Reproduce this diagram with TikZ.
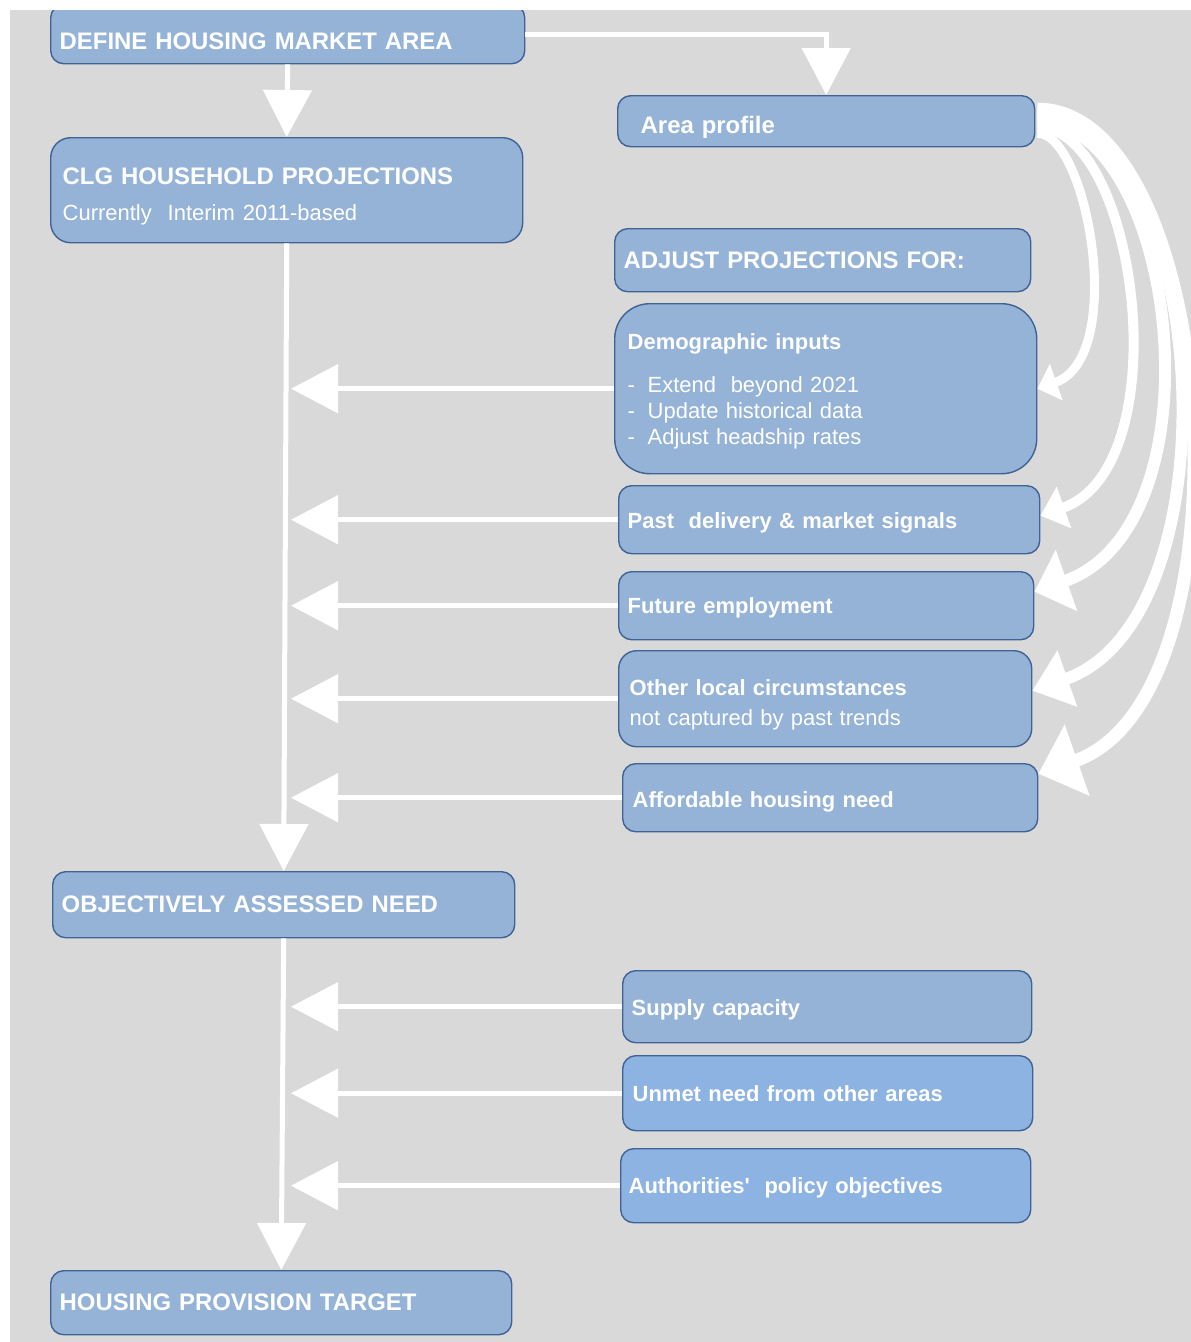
\documentclass[tikz,border=0pt]{standalone}
\usepackage{fontspec}
\setmainfont{Liberation Sans}[Ligatures=TeXOff]
\usepackage{tikz}
\usetikzlibrary{positioning,calc}
\usetikzlibrary{arrows.meta}

\definecolor{bggrey}{HTML}{D9D9D9}
\definecolor{boxfill}{HTML}{95B3D7}
\definecolor{boxfilltwo}{HTML}{8DB3E2}
\definecolor{boxline}{HTML}{3F6395}

\tikzset{
    box/.style={draw=boxline, line width=0.8pt, fill=boxfill, rounded corners=2.6mm,
        text=white, align=left, anchor=north west, inner xsep=1.8mm, inner ysep=1mm},
    big/.style={font=\fontsize{13.6}{16}\selectfont\bfseries},
    small/.style={font=\fontsize{12.5}{15}\selectfont\bfseries},
    flow/.style={draw=white, line width=1mm, -{Triangle[length=9.4mm,width=9.6mm]}},
}

\newcommand{\dashitem}{\makebox[11.4pt][l]{-}}
% first line with extra room above it, to push the text down
\newcommand{\dropline}[2]{\rule{0pt}{#1}#2}

\begin{document}
\begin{tikzpicture}[x=0.2mm, y=-0.2mm]
    \useasboundingbox (0,0) rectangle (1191,1342);
    \fill[bggrey] (10,10) rectangle (1191,1342);
    \clip (10,10) rectangle (1191,1342);

    % left column
    \node[box, big, text width=91.2mm, minimum height=11.8mm] (define) at (50,4) {\dropline{17.8pt}{DEFINE HOUSING MARKET AREA}};
    \node[box, big, rounded corners=4mm, inner xsep=2.4mm, text width=89.6mm, minimum height=21mm] (clg) at (50,137)
        {\dropline{16.6pt}{CLG HOUSEHOLD PROJECTIONS}\\[5pt]\mdseries\fontsize{12.5}{15}\selectfont
         Currently~ Interim 2011-based};
    \node[box, big, text width=88.8mm, minimum height=13.2mm] (oan) at (52,871) {OBJECTIVELY ASSESSED NEED};
    \node[box, big, text width=88.6mm, minimum height=12.8mm] (hpt) at (50,1270) {HOUSING PROVISION TARGET};

    % right column
    \node[box, big, inner xsep=4.6mm, text width=74.2mm, minimum height=10.2mm] (area) at (617,95) {\dropline{16.8pt}{Area profile}};
    \node[box, big, text width=79.6mm, minimum height=12.6mm] (adjust) at (614,228) {ADJUST PROJECTIONS FOR:};
    \node[box, small, rounded corners=7mm, inner xsep=2.6mm, text width=79.2mm, minimum height=34mm] (demo) at (614,303)
        {\dropline{12.5pt}{Demographic inputs}\\[9pt]\mdseries
         \dashitem Extend~ beyond 2021\\
         \dashitem Update historical data\\
         \dashitem Adjust headship rates};
    \node[box, small, text width=80.6mm, minimum height=13.6mm] (past) at (618,485) {\dropline{12.5pt}{Past~ delivery \& market signals}};
    \node[box, small, text width=79.4mm, minimum height=13.6mm] (future) at (618,571) {\dropline{11.4pt}{Future employment}};
    \node[box, small, rounded corners=3.6mm, inner xsep=2.2mm, text width=78.2mm, minimum height=19.2mm] (other) at (618,650)
        {\dropline{15.9pt}{Other local circumstances}\\[2pt]\mdseries not captured by past trends};
    \node[box, small, inner xsep=2mm, text width=79mm, minimum height=13.6mm] (afford) at (622,763) {\dropline{13.6pt}{Affordable housing need}};
    \node[box, small, text width=78.2mm, minimum height=14.4mm] (supply) at (622,970) {\dropline{12.5pt}{Supply capacity}};
    \node[box, small, fill=boxfilltwo, inner xsep=2mm, text width=78mm, minimum height=15mm] (unmet) at (622,1055) {Unmet need from other areas};
    \node[box, small, fill=boxfilltwo, inner xsep=1.6mm, text width=78.8mm, minimum height=14.8mm] (auth) at (620,1148) {\dropline{11.4pt}{Authorities'~ policy objectives}};

    % main flow
    \coordinate (spine) at (291,0);
    \draw[flow] (define.south) -- (clg.north);
    \draw[flow] (define.east) -| (area.north);
    \draw[flow] (clg.south) -- (oan.north);
    \draw[flow] (oan.south) -- (hpt.north);

    \foreach \src in {demo,past,future,other,afford,supply,unmet,auth}{
        \draw[flow] (\src.west) -- (\src.west -| spine);
    }

    % curved arrows from area profile
    \foreach \tgt/\s/\t/\a/\b/\lw/\hl/\hw in {demo/12/0/50/90/1.8/4/7.5,
            past/6/-4/100/140/2/5/8.5,
            future/0/-14/140/190/2.4/6.8/12.6,
            other/-6/-8/170/210/2.4/7.4/11.5,
            afford/-12/-24/180/220/2.6/8.2/14.6}{
        \draw[white, line width=\lw mm, -{Triangle[length=\hl mm,width=\hw mm]}]
            ($(area.east)+(2,\s)$) .. controls +(\a,0) and +(\b,{-0.35*\b}) .. ($(\tgt.east)+(0,\t)$);
    }
\end{tikzpicture}
\end{document}
